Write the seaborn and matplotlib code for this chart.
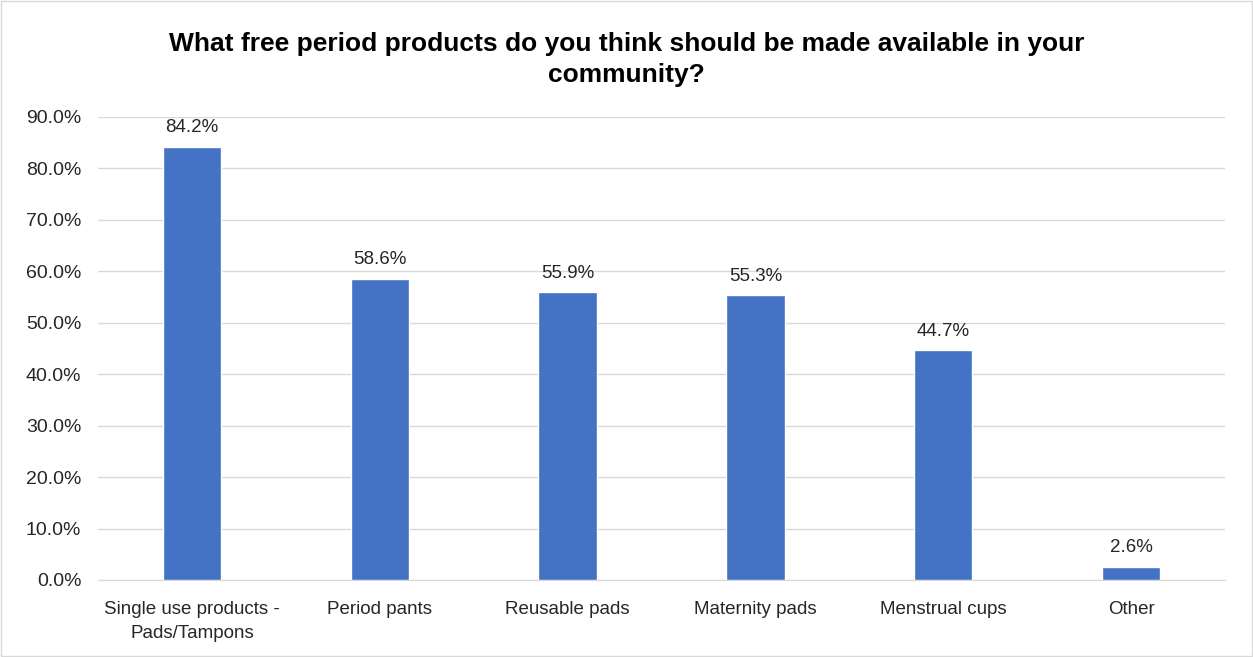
import matplotlib
matplotlib.use('Agg')
import matplotlib.pyplot as plt
import seaborn as sns
import pandas as pd

# datos del grafico
categorias = ['Single use products -\nPads/Tampons', 'Period pants', 'Reusable pads',
              'Maternity pads', 'Menstrual cups', 'Other']
valores = [84.2, 58.6, 55.9, 55.3, 44.7, 2.6]
yticks = [0, 10, 20, 30, 40, 50, 60, 70, 80, 90]

df = pd.DataFrame({'categoria': categorias, 'valor': valores})

sns.set_style('white')
plt.rcParams['font.family'] = ['Liberation Sans', 'DejaVu Sans']

fig = plt.figure(figsize=(12.53, 6.57), dpi=100)
ax = fig.add_axes([0.0782, 0.1172, 0.8995, 0.7048])

sns.barplot(data=df, x='categoria', y='valor', color='#4472C4', width=0.31,
            saturation=1, ax=ax, zorder=3)

ax.set_ylim(0, 90)
ax.set_yticks(yticks)
ax.set_yticklabels([f'{v:.1f}%' for v in yticks], fontsize=14, color='#262626')
ax.tick_params(axis='x', labelsize=13.5, labelcolor='#262626', length=0, pad=15)
ax.tick_params(axis='y', length=0, pad=12)
for lbl in ax.get_xticklabels():
    lbl.set_linespacing(1.55)
ax.grid(axis='y', color='#D9D9D9', linewidth=1, zorder=0)
ax.set_xlabel('')
ax.set_ylabel('')
for s in ['top', 'right', 'left']:
    ax.spines[s].set_visible(False)
ax.spines['bottom'].set_color('#D9D9D9')

# etiquetas de valores
for i, v in enumerate(valores):
    ax.text(i, v + 2.0, f'{v:.1f}%', ha='center', va='bottom', fontsize=13.5, color='#262626')

fig.text(0.5, 0.952, 'What free period products do you think should be made available in your\ncommunity?',
         ha='center', va='top', fontsize=19, fontweight='bold', color='black', linespacing=1.4)

# borde del grafico
fig.patches.append(plt.Rectangle((0.001, 0.001), 0.998, 0.998, transform=fig.transFigure,
                                 fill=False, edgecolor='#D9D9D9', linewidth=1))

fig.savefig('out.png', dpi=100)
plt.close()
